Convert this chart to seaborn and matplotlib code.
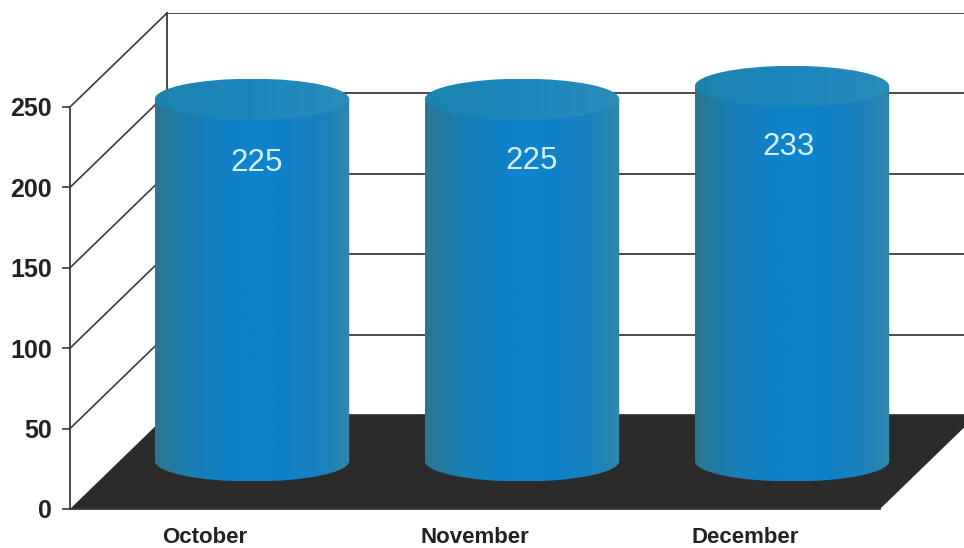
import matplotlib
matplotlib.use("Agg")
import matplotlib.pyplot as plt
import numpy as np
import pandas as pd
import seaborn as sns
from matplotlib.colors import LinearSegmentedColormap
from matplotlib.patches import ConnectionPatch, Ellipse, PathPatch, Polygon
from matplotlib.path import Path

months = ["October", "November", "December"]
values = [225, 225, 233]
y_ticks = [0, 50, 100, 150, 200, 250]

W, H = 964, 548
SCALE = 402 / 250  # pixels per unit on the value axis

sns.set_style("white")
plt.rcParams["font.family"] = ["Liberation Sans", "DejaVu Sans"]
LINE = "#3a3a3a"

df = pd.DataFrame({"month": months, "value": values})
fig = plt.figure(figsize=(W / 100, H / 100), dpi=100, facecolor="white")


def plane(left, base, lo=0, zorder=0):
    # one depth plane of the fake 3D box: 810px wide, value 0 sits at y=base
    ax = fig.add_axes([left / W, 1 - (base - lo * SCALE) / H, 810 / W, (250 - lo) * SCALE / H])
    ax.set_zorder(zorder)
    ax.patch.set_visible(False)
    ax.set_xlim(-0.5, 2.5)
    ax.set_ylim(lo, 250)
    return ax


# back wall
ax_back = plane(167, 415, zorder=0)
ax_back.set_yticks(y_ticks)
ax_back.set_xticks([])
ax_back.set_yticklabels([])
ax_back.grid(axis="y", color=LINE, lw=1.3)
ax_back.tick_params(left=False)
sns.despine(ax=ax_back, top=True, right=True, bottom=True)
ax_back.spines["left"].set(color=LINE, lw=1.3)

# front plane with the readable axis
ax_front = plane(70, 509, zorder=2)
sns.barplot(data=df, x="month", y="value", ax=ax_front, alpha=0)
ax_front.set_ylim(0, 250)
ax_front.set_yticks(y_ticks)
ax_front.set_xlabel("")
ax_front.set_ylabel("")
for lab in ax_front.get_yticklabels():
    lab.set(fontsize=18, fontweight="bold", color="#222222")
for lab in ax_front.get_xticklabels():
    lab.set(fontsize=16, fontweight="bold", color="#222222")
sns.despine(ax=ax_front)
ax_front.spines["left"].set(color=LINE, lw=1.3)
ax_front.spines["bottom"].set(color=LINE, lw=1.3)
ax_front.tick_params(axis="y", which="major", left=True, length=6, width=1.2, color=LINE, pad=7)
ax_front.tick_params(axis="x", length=0, pad=13)

# side wall lines from the front axis to the back wall
for v in y_ticks[1:]:
    fig.add_artist(ConnectionPatch((0, v), (0, v), ax_front.get_yaxis_transform(), ax_back.get_yaxis_transform(),
                                   color=LINE, lw=1.2, zorder=1))

# floor
corners = np.vstack([ax_front.transAxes.transform([(0, 0), (1, 0)]),
                     ax_back.transAxes.transform([(1, 0), (0, 0)])])
fig.add_artist(Polygon(corners, closed=True, transform=None, facecolor="#2b2b2b",
                       edgecolor="none", zorder=1))

# cylinders
ax_bar = plane(117, 461, lo=-30, zorder=3)
sns.barplot(data=df, x="month", y="value", ax=ax_bar, width=0.72, color="#0f80c8")
ax_bar.set_ylim(-30, 250)
ax_bar.axis("off")

body = LinearSegmentedColormap.from_list("body", [(0, "#2f7590"), (0.04, "#2a789a"), (0.12, "#1f7ba8"),
                                                  (0.25, "#1580bd"), (0.42, "#0f82c9"), (0.62, "#0f82cb"),
                                                  (0.8, "#1681c2"), (0.92, "#2283b5"), (1, "#3088aa")])
lid = LinearSegmentedColormap.from_list("lid", [(0, "#1c84ad"), (0.5, "#1a86bd"), (1, "#2a8cb8")])
shade = np.linspace(0, 1, 256).reshape(1, -1)
RY = 20.5 / SCALE
nudges = [(5, -64), (10, -62), (-3, -61)]

for bar, value, (dx, dy) in zip(list(ax_bar.patches), values, nudges):
    x0, w = bar.get_x(), bar.get_width()
    cx = x0 + w / 2
    bar.set_visible(False)
    foot = Ellipse((cx, 0), w, 2 * RY, transform=ax_bar.transData)
    box = Path([(x0, 0), (x0 + w, 0), (x0 + w, value), (x0, value), (x0, 0)], closed=True)
    shape = Path.make_compound_path(box, foot.get_path().transformed(foot.get_patch_transform()))
    clip = PathPatch(shape, transform=ax_bar.transData, facecolor="none", edgecolor="none")
    ax_bar.add_patch(clip)
    im = ax_bar.imshow(shade, cmap=body, extent=(x0, x0 + w, -RY, value), aspect="auto", zorder=2,
                       interpolation="bilinear")
    im.set_clip_path(clip)
    top = Ellipse((cx, value), w, 2 * RY, facecolor="none", edgecolor="none")
    ax_bar.add_patch(top)
    im = ax_bar.imshow(shade, cmap=lid, extent=(x0, x0 + w, value - RY, value + RY), aspect="auto", zorder=3,
                       interpolation="bilinear")
    im.set_clip_path(top)
    ax_bar.annotate(str(value), (cx, value), xytext=(dx * 0.72, dy * 0.72), textcoords="offset points",
                    ha="center", va="center", fontsize=22.5, color="#d4f0fb", zorder=4)

ax_bar.set_xlim(-0.5, 2.5)
ax_bar.set_ylim(-30, 250)

fig.savefig("out.png", dpi=100)
